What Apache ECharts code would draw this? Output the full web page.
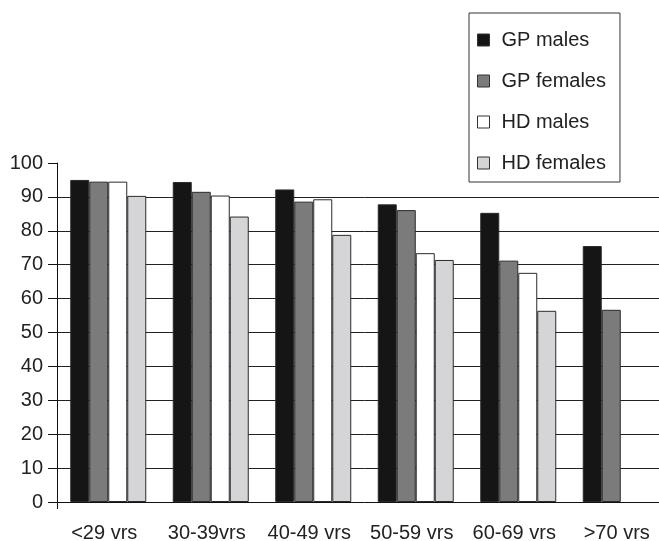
<!DOCTYPE html>
<html>
<head>
<meta charset="utf-8">
<script src="https://cdn.jsdelivr.net/npm/echarts@6/dist/echarts.min.js"></script>
<style>
html,body{margin:0;padding:0;background:#fff;overflow:hidden;width:659px;height:541px;}
#chart{width:672px;height:541px;}
</style>
</head>
<body>
<div id="chart"></div>
<script>
var categories = ['<29 vrs', '30-39vrs', '40-49 vrs', '50-59 vrs', '60-69 vrs', '>70 vrs'];
var seriesNames = ['GP males', 'GP females', 'HD males', 'HD females'];
var gpMales = [95, 94.4, 92.2, 87.8, 85.3, 75.5];
var gpFemales = [94.5, 91.5, 88.6, 86.1, 71.2, 56.7];
var hdMales = [94.5, 90.4, 89.3, 73.4, 67.6, null];
var hdFemales = [90.3, 84.2, 78.8, 71.4, 56.4, null];
var yTicks = [0, 10, 20, 30, 40, 50, 60, 70, 80, 90, 100];

var colors = ['#151515', '#7b7b7b', '#ffffff', '#d5d5d7'];
var values = [gpMales, gpFemales, hdMales, hdFemales];
var font = '"Liberation Sans", Arial, Helvetica, sans-serif';

var chart = echarts.init(document.getElementById('chart'), null, {renderer: 'canvas'});

var series = seriesNames.map(function (name, i) {
  return {
    name: name,
    type: 'bar',
    data: values[i],
    barWidth: 19,
    barGap: '0%',
    itemStyle: {color: colors[i], borderColor: '#2a2a2a', borderWidth: 1},
    emphasis: {disabled: true}
  };
});

chart.setOption({
  animation: false,
  backgroundColor: '#ffffff',
  grid: {left: 57, right: 0, top: 163, bottom: 39, containLabel: false, outerBoundsMode: 'none'},
  legend: {
    orient: 'vertical',
    left: 469,
    top: 13,
    data: seriesNames,
    icon: 'rect',
    itemWidth: 12,
    itemHeight: 12,
    itemGap: 21,
    padding: [17, 14, 9, 8],
    borderColor: '#333',
    borderWidth: 1,
    itemStyle: {borderColor: '#333', borderWidth: 1},
    textStyle: {fontFamily: font, fontSize: 20, color: '#222', lineHeight: 20, padding: [0, 0, 0, 7]}
  },
  xAxis: {
    type: 'category',
    data: categories,
    boundaryGap: true,
    axisLine: {show: true, lineStyle: {color: '#111', width: 1}},
    axisTick: {show: true, length: 7, interval: function (i) { return i === 0; }, lineStyle: {color: '#111'}},
    axisLabel: {fontFamily: font, fontSize: 20, color: '#222', margin: 21, interval: 0, padding: [0, 8, 0, 0]},
    splitLine: {show: false}
  },
  yAxis: {
    type: 'value',
    min: yTicks[0],
    max: yTicks[yTicks.length - 1],
    interval: 10,
    axisLine: {show: true, lineStyle: {color: '#111', width: 1}},
    axisTick: {show: true, length: 9, lineStyle: {color: '#111'}},
    axisLabel: {fontFamily: font, fontSize: 20, color: '#222', margin: 14},
    splitLine: {show: true, showMaxLine: false, showMinLine: false, lineStyle: {color: '#222', width: 1}}
  },
  series: series
});
</script>
</body>
</html>
